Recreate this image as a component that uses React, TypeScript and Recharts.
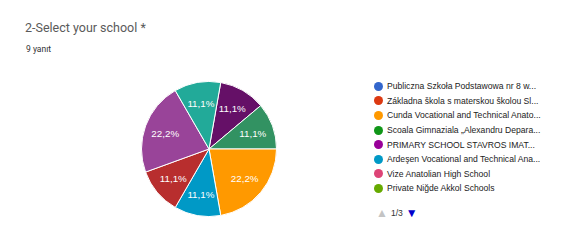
import { PieChart, Pie, Cell, Legend } from 'recharts'

// slices, clockwise from just right of 12 o'clock
const sliceCounts = [1, 1, 2, 1, 1, 2, 1]
const sliceColors = ['#651067', '#329262', '#ff9900', '#0099c6', '#b82e2e', '#994499', '#22aa99']
const totalAnswers = 9

// legend page 1/3
const schools = [
  'Publiczna Szkoła Podstawowa nr 8 w...',
  'Základna škola s materskou školou Sl...',
  'Cunda Vocational and Technical Anato...',
  'Scoala Gimnaziala „Alexandru Depara...',
  'PRIMARY SCHOOL STAVROS IMAT...',
  'Ardeşen Vocational and Technical Ana...',
  'Vize Anatolian High School',
  'Private Niğde Akkol Schools',
]
const schoolColors = ['#3366cc', '#dc3912', '#ff9900', '#109618', '#990099', '#0099c6', '#dd4477', '#66aa00']

const pieData = sliceCounts.map((v, i) => ({ name: `s${i}`, value: v }))

const RAD = Math.PI / 180

function renderLabel(props: any) {
  const { cx, cy, midAngle, outerRadius, value } = props
  const r = outerRadius * 0.69
  const x = cx + r * Math.cos(-midAngle * RAD)
  const y = cy + r * Math.sin(-midAngle * RAD)
  const pct = ((value / totalAnswers) * 100).toFixed(1).replace('.', ',') + '%'
  return (
    <text
      x={x}
      y={y}
      fill="#ffffff"
      fontSize={9.8}
      fontFamily="'Liberation Sans', Arial, sans-serif"
      textAnchor="middle"
      dominantBaseline="central"
    >
      {pct}
    </text>
  )
}

function SchoolLegend() {
  return (
    <div style={{ fontFamily: "'Liberation Sans', Arial, sans-serif", fontSize: 8.6, color: '#222' }}>
      {schools.map((s, i) => (
        <div key={s} style={{ display: 'flex', alignItems: 'center', height: 14.6, whiteSpace: 'nowrap' }}>
          <span
            style={{
              width: 9,
              height: 9,
              borderRadius: '50%',
              background: schoolColors[i],
              marginRight: 4,
              flex: 'none',
            }}
          />
          {s}
        </div>
      ))}
      <div style={{ display: 'flex', alignItems: 'center', marginTop: 10, marginLeft: 2, color: '#333' }}>
        <span style={{ color: '#c4c4c4', fontSize: 12, marginRight: 3 }}>▲</span>
        <span>1/3</span>
        <span style={{ color: '#0000cc', fontSize: 12, marginLeft: 3 }}>▼</span>
      </div>
    </div>
  )
}

export default function App() {
  return (
    <div style={{ position: 'absolute', left: 0, top: 0, width: 583, height: 241, background: '#fff' }}>
      <div
        style={{
          position: 'absolute',
          left: 25,
          top: 20,
          fontFamily: 'Roboto, sans-serif',
          fontSize: 12.5,
          color: '#5a5a5a',
          whiteSpace: 'nowrap',
        }}
      >
        2-Select your school *
      </div>
      <div
        style={{
          position: 'absolute',
          left: 26,
          top: 44,
          fontFamily: 'Roboto, sans-serif',
          fontSize: 8.5,
          color: '#333',
        }}
      >
        9 yanıt
      </div>
      <PieChart width={583} height={241} margin={{ top: 0, right: 0, bottom: 0, left: 0 }} style={{ position: 'absolute', left: 0, top: 0 }}>
        <Pie
          data={pieData}
          dataKey="value"
          cx={209}
          cy={149}
          outerRadius={67.5}
          startAngle={80}
          endAngle={-280}
          stroke="#ffffff"
          strokeWidth={1}
          label={renderLabel}
          labelLine={false}
          isAnimationActive={false}
        >
          {pieData.map((d, i) => (
            <Cell key={d.name} fill={sliceColors[i]} />
          ))}
        </Pie>
        <Legend
          content={() => <SchoolLegend />}
          wrapperStyle={{ position: 'absolute', left: 374, top: 79, width: 200 }}
        />
      </PieChart>
    </div>
  )
}
